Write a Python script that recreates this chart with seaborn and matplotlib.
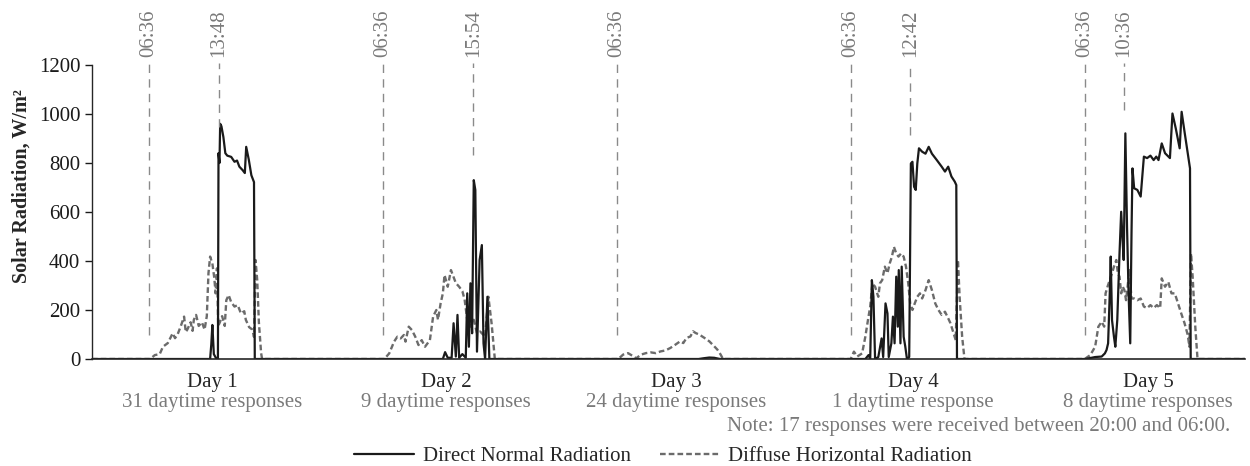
import pandas as pd
import matplotlib.pyplot as plt
import seaborn as sns
from matplotlib.transforms import blended_transform_factory

# --- 1. Data (hours within each day, W/m2) ---
days = ['Day 1', 'Day 2', 'Day 3', 'Day 4', 'Day 5']
responses = ['31 daytime responses', '9 daytime responses', '24 daytime responses',
             '1 daytime response', '8 daytime responses']

d1_dni_t = [12.90, 13.02, 13.13, 13.28, 13.55, 13.70, 13.76, 13.86, 13.93, 14.06, 14.26, 14.46,
            14.66, 15.06, 15.40, 15.66, 15.90, 16.23, 16.46, 16.60, 16.86, 17.13, 17.40, 17.48]
d1_dni_v = [0, 60, 139, 20, 0, 0, 840, 800, 960, 950, 906, 840,
            830, 825, 805, 810, 785, 771, 759, 866, 815, 750, 722, 0]
d1_dhi_t = [6.73, 7.23, 7.73, 8.06, 8.56, 9.06, 9.30, 9.56, 9.90, 10.23, 10.40, 10.56, 10.90, 11.10,
            11.23, 11.46, 11.73, 12.06, 12.33, 12.56, 12.73, 12.90, 13.13, 13.33, 13.46, 13.60,
            13.73, 13.90, 14.13, 14.40, 14.56, 14.80, 15.06, 15.40, 15.73, 16.06, 16.40, 16.56,
            16.90, 17.23, 17.40, 17.56, 17.73, 17.90, 18.13, 18.23]
d1_dhi_v = [0, 16, 20, 50, 65, 105, 85, 100, 135, 173, 110, 120, 150, 115,
            160, 180, 135, 150, 120, 175, 350, 418, 390, 330, 268, 370,
            135, 150, 175, 135, 240, 261, 232, 214, 220, 186, 195, 160,
            130, 120, 90, 404, 322, 150, 24, 0]

d2_dni_t = [12.77, 13.00, 13.27, 13.67, 13.87, 14.10, 14.27, 14.44, 14.77, 15.12, 15.27, 15.44,
            15.60, 15.77, 15.94, 16.10, 16.27, 16.54, 16.77, 16.94, 17.10, 17.34, 17.54]
d2_dni_v = [0, 28, 5, 5, 146, 10, 180, 5, 20, 5, 268, 50,
            309, 105, 730, 690, 30, 404, 465, 64, 0, 254, 0]
d2_dhi_t = [6.77, 7.27, 7.77, 8.10, 8.44, 8.77, 8.94, 9.27, 9.60, 9.94, 10.27, 10.60, 10.94,
            11.44, 11.77, 12.10, 12.27, 12.54, 12.77, 12.94, 13.27, 13.60, 13.87, 14.10, 14.44,
            14.77, 15.00, 15.27, 15.60, 15.94, 16.27, 16.60, 17.10, 17.44, 17.77, 18.10]
d2_dhi_v = [0, 23, 71, 91, 84, 98, 71, 132, 118, 91, 57, 77, 50,
            77, 173, 200, 160, 227, 268, 343, 295, 363, 335, 310, 295,
            277, 243, 160, 132, 160, 105, 112, 91, 254, 145, 0]

d3_dni_t = [15.00, 15.50, 16.10, 16.60, 17.20]
d3_dni_v = [0, 3, 6, 5, 0]
d3_dhi_t = [6.76, 7.26, 7.76, 8.26, 8.60, 9.10, 9.60, 10.10, 10.60, 11.10, 11.60, 12.10, 12.60,
            13.10, 13.43, 13.76, 14.16, 14.43, 14.70, 15.10, 15.60, 16.10, 16.60, 16.93, 17.26, 17.50]
d3_dhi_v = [0, 18, 24, 12, 3, 18, 24, 27, 24, 31, 35, 45, 58,
            72, 65, 86, 92, 113, 106, 99, 86, 72, 52, 38, 18, 0]

d4_dni_t = [8.10, 8.43, 8.60, 8.77, 8.93, 9.10, 9.43, 9.77, 9.93, 10.17, 10.37, 10.50, 10.77,
            10.93, 11.10, 11.27, 11.43, 11.53, 11.70, 11.83, 12.03, 12.20, 12.37, 12.60, 12.77,
            12.93, 13.10, 13.27, 13.43, 13.60, 13.93, 14.27, 14.60, 14.93, 15.43, 15.93, 16.27,
            16.60, 16.93, 17.27, 17.43, 17.50]
d4_dni_v = [0, 16, 0, 322, 254, 0, 8, 84, 8, 227, 186, 8, 64,
            173, 64, 336, 132, 363, 64, 377, 91, 50, 0, 8, 798,
            805, 703, 690, 798, 860, 846, 838, 866, 838, 812, 785, 765,
            785, 745, 724, 710, 0]
d4_dhi_t = [6.60, 6.93, 7.27, 7.77, 8.10, 8.37, 8.60, 8.83, 9.10, 9.43, 9.60, 9.83, 10.10,
            10.37, 10.60, 10.83, 11.03, 11.27, 11.50, 11.77, 12.03, 12.27, 12.50, 12.70, 12.93,
            13.17, 13.43, 13.70, 13.93, 14.27, 14.60, 14.93, 15.27, 15.60, 15.93, 16.27, 16.60,
            16.83, 17.10, 17.37, 17.60, 17.77, 18.03, 18.27]
d4_dhi_v = [0, 30, 10, 23, 91, 159, 214, 309, 295, 254, 309, 322, 377,
            350, 390, 418, 458, 431, 418, 431, 418, 377, 309, 227, 200,
            227, 254, 268, 247, 281, 322, 281, 227, 200, 180, 193, 166,
            146, 111, 77, 404, 254, 91, 0]

d5_dni_t = [6.67, 7.67, 8.34, 8.67, 8.84, 9.00, 9.17, 9.27, 9.40, 9.60, 9.74, 9.94, 10.17,
            10.34, 10.50, 10.60, 10.77, 10.94, 11.10, 11.27, 11.40, 11.50, 11.67, 12.00, 12.34,
            12.67, 13.00, 13.34, 13.67, 13.94, 14.17, 14.50, 14.84, 15.34, 15.60, 15.94, 16.34,
            16.54, 16.84, 17.17, 17.40, 17.47]
d5_dni_v = [0, 8, 10, 23, 37, 64, 268, 418, 159, 91, 50, 159, 431,
            601, 472, 404, 921, 540, 268, 64, 513, 778, 697, 690, 663,
            826, 820, 830, 812, 826, 812, 880, 840, 820, 1002, 941, 860,
            1009, 927, 840, 778, 0]
d5_dhi_t = [6.60, 7.17, 7.67, 8.00, 8.34, 8.60, 8.74, 8.94, 9.17, 9.40, 9.60, 9.84, 10.00,
            10.17, 10.34, 10.50, 10.67, 10.84, 11.00, 11.17, 11.40, 11.67, 12.00, 12.34, 12.67,
            13.00, 13.34, 13.67, 14.00, 14.34, 14.50, 14.84, 15.17, 15.50, 15.84, 16.17, 16.50,
            16.84, 17.17, 17.34, 17.50, 17.67, 17.94, 18.17]
d5_dhi_v = [0, 16, 50, 132, 152, 132, 268, 295, 322, 350, 377, 404, 350,
            336, 268, 295, 281, 240, 295, 363, 247, 247, 240, 247, 214,
            208, 220, 208, 220, 208, 329, 295, 315, 268, 268, 227, 186,
            146, 98, 50, 431, 336, 132, 0]

# time markers drawn above each day
marker_day = [1, 1, 2, 2, 3, 4, 4, 5, 5]
marker_time = ['06:36', '13:48', '06:36', '15:54', '06:36', '06:36', '12:42', '06:36', '10:36']
marker_low = [100, 947, 100, 832, 100, 100, 914, 100, 1016]

day_label_hour = [13.1, 13.1, 12.7, 13.0, 13.1]
x_min, x_max = 0.785, 119.04


def build(ts, vs):
    xs, ys = [x_min], [0]
    for d, (t, v) in enumerate(zip(ts, vs)):
        xs += [24 * d + h for h in t]
        ys += v
    xs.append(x_max)
    ys.append(0)
    return pd.DataFrame({'hour': xs, 'value': ys})


dni = build([d1_dni_t, d2_dni_t, d3_dni_t, d4_dni_t, d5_dni_t],
            [d1_dni_v, d2_dni_v, d3_dni_v, d4_dni_v, d5_dni_v])
dhi = build([d1_dhi_t, d2_dhi_t, d3_dhi_t, d4_dhi_t, d5_dhi_t],
            [d1_dhi_v, d2_dhi_v, d3_dhi_v, d4_dhi_v, d5_dhi_v])

# --- 2. Plot ---
sns.set_style("ticks")
plt.rcParams['font.family'] = ['Liberation Serif', 'DejaVu Serif']
grey_txt = '#7a7a7a'

fig, ax = plt.subplots(figsize=(12.5, 4.66), dpi=100)
fig.subplots_adjust(left=92 / 1250, right=1245 / 1250, bottom=1 - 359 / 466, top=1 - 65 / 466)

sns.lineplot(data=dhi, x='hour', y='value', ax=ax, sort=False, estimator=None,
             color='#6b6b6b', lw=1.7, linestyle=(0, (2.4, 1.3)), label='Diffuse Horizontal Radiation')
sns.lineplot(data=dni, x='hour', y='value', ax=ax, sort=False, estimator=None,
             color='#1a1a1a', lw=1.6, label='Direct Normal Radiation')

# time markers
for d, lab, low in zip(marker_day, marker_time, marker_low):
    hh, mm = lab.split(':')
    x = 24 * (d - 1) + int(hh) + int(mm) / 60
    ax.plot([x, x], [low, 1208], color='#8a8a8a', lw=1.0, linestyle=(0, (6, 4.5)), clip_on=False)
    ax.text(x, 1232, lab, rotation=90, ha='center', va='bottom', fontsize=15,
            color=grey_txt, clip_on=False)

# --- 3. Customize ---
ax.set_xlim(x_min, x_max)
ax.set_ylim(0, 1200)
ax.set_yticks(range(0, 1201, 200))
ax.set_xticks([])
ax.tick_params(axis='y', labelsize=15, length=5, width=1, direction='out', colors='#1a1a1a')
ax.set_xlabel('')
ax.set_ylabel('')
sns.despine(ax=ax)
ax.spines['left'].set_linewidth(1.0)
ax.spines['bottom'].set_linewidth(1.2)
ax.get_legend().remove()

fig.text(22 / 1250, 1 - 186 / 466, 'Solar Radiation, W/m²', rotation=90, ha='center', va='center',
         fontsize=14.5, fontweight='bold')

trans = blended_transform_factory(ax.transData, fig.transFigure)
for d, (name, resp) in enumerate(zip(days, responses)):
    x = 24 * d + day_label_hour[d]
    ax.text(x, 1 - 382 / 466, name, transform=trans, ha='center', va='center', fontsize=15)
    ax.text(x, 1 - 402 / 466, resp, transform=trans, ha='center', va='center', fontsize=15,
            color=grey_txt)

fig.text(1230 / 1250, 1 - 426 / 466, 'Note: 17 responses were received between 20:00 and 06:00.',
         ha='right', va='center', fontsize=15, color=grey_txt)

handles, labels = ax.get_legend_handles_labels()
order = [labels.index('Direct Normal Radiation'), labels.index('Diffuse Horizontal Radiation')]
fig.legend([handles[i] for i in order], [labels[i] for i in order], loc='center',
           bbox_to_anchor=(663 / 1250, 1 - 456 / 466), ncol=2, frameon=False, fontsize=15,
           handlelength=2.9, handletextpad=0.4, columnspacing=1.4)

# --- 4. Save ---
fig.savefig('out.png', dpi=100)
